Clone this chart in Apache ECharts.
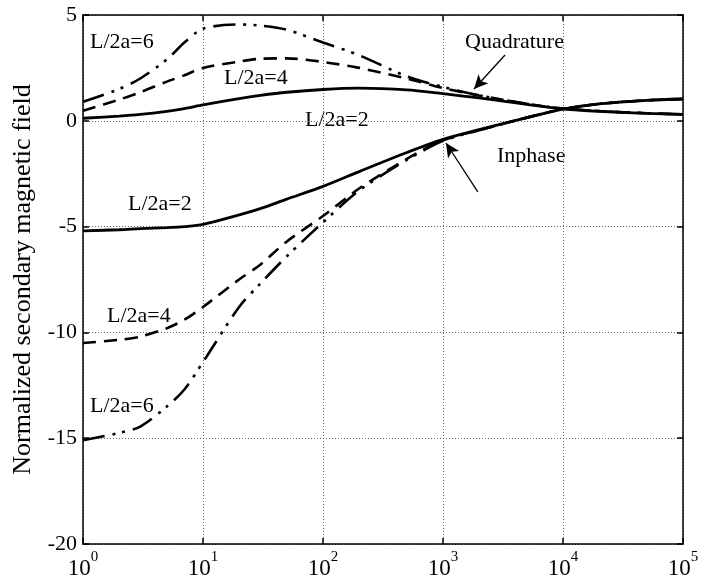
<!DOCTYPE html>
<html lang="en">
<head>
    <meta charset="UTF-8">
    <title>Normalized secondary magnetic field</title>
    <script src="https://cdn.jsdelivr.net/npm/echarts@6/dist/echarts.min.js"></script>
</head>
<body style="margin:0">
    <div id="main" style="width: 703px;height:582px;"></div>
</body>
<script>
    // 横轴取样点（对数刻度）
    var xs = [1, 2, 3, 5, 7, 10, 20, 30, 50, 100, 200, 500, 1000, 2000, 5000, 1e4, 2e4, 5e4, 1e5];

    // Quadrature
    var quad2 = [0.12, 0.22, 0.3, 0.45, 0.58, 0.75, 1.05, 1.2, 1.35, 1.48, 1.54, 1.46, 1.28, 1.08, 0.78, 0.57, 0.45, 0.35, 0.3];
    var quad4 = [0.48, 1.0, 1.35, 1.85, 2.15, 2.5, 2.8, 2.93, 2.95, 2.78, 2.5, 2.0, 1.55, 1.2, 0.8, 0.58, 0.46, 0.36, 0.3];
    var quad6 = [0.9, 1.5, 2.0, 2.9, 3.7, 4.35, 4.55, 4.5, 4.3, 3.7, 3.1, 2.1, 1.6, 1.2, 0.8, 0.58, 0.46, 0.36, 0.3];

    // Inphase
    var inph2 = [-5.2, -5.15, -5.1, -5.05, -5.0, -4.9, -4.45, -4.15, -3.7, -3.1, -2.4, -1.5, -0.88, -0.42, 0.15, 0.55, 0.8, 0.97, 1.03];
    var inph4 = [-10.5, -10.35, -10.2, -9.8, -9.4, -8.8, -7.5, -6.8, -5.7, -4.5, -3.2, -1.8, -0.92, -0.44, 0.15, 0.55, 0.8, 0.97, 1.03];
    var inph6 = [-15.1, -14.75, -14.45, -13.5, -12.7, -11.4, -8.8, -7.7, -6.4, -4.8, -3.3, -1.85, -0.95, -0.45, 0.15, 0.55, 0.8, 0.97, 1.03];

    var yTicks = [-20, -15, -10, -5, 0, 5];

    var font = "'Liberation Serif', 'Times New Roman', serif";

    function pairs(vals) {
        return xs.map(function (x, i) { return [x, vals[i]]; });
    }

    function line(name, vals, dash, width) {
        return {
            name: name,
            type: 'line',
            smooth: 0.3,
            symbol: 'none',
            data: pairs(vals),
            lineStyle: { color: '#000', width: width, type: dash },
            z: 3
        };
    }

    var dashed = [13, 8];
    var dashDot = [22, 8, 3, 7, 3, 8];

    var series = [
        line('quad2', quad2, 'solid', 2.8),
        line('quad4', quad4, dashed, 2.6),
        line('quad6', quad6, dashDot, 2.6),
        line('inph2', inph2, 'solid', 2.8),
        line('inph4', inph4, dashed, 2.6),
        line('inph6', inph6, dashDot, 2.6)
    ];

    // 箭头
    series[0].markLine = {
        silent: true,
        symbol: ['none', 'arrow'],
        symbolSize: [10, 14],
        label: { show: false },
        lineStyle: { color: '#000', width: 1.3, type: 'solid' },
        data: [
            [{ coord: [3289, 3.11] }, { coord: [1812, 1.5] }],
            [{ coord: [1950, -3.36] }, { coord: [1059, -1.05] }]
        ]
    };

    var gridDash = { show: true, lineStyle: { color: '#666', width: 1, type: [1, 2] } };
    var axisBlack = { show: true, onZero: false, lineStyle: { color: '#000', width: 1.5 } };
    var tickIn = { show: true, inside: true, length: 6, lineStyle: { color: '#000', width: 1.5 } };

    var myChart = echarts.init(document.getElementById('main'));

    var option = {
        animation: false,
        backgroundColor: '#fff',
        grid: { left: 83, right: 20, top: 15, bottom: 38 },
        xAxis: [{
            type: 'log',
            logBase: 10,
            min: 1,
            max: 1e5,
            axisLine: axisBlack,
            axisTick: tickIn,
            minorTick: { show: false },
            splitLine: gridDash,
            axisLabel: {
                margin: 6,
                formatter: function (v) {
                    var e = Math.round(Math.log10(v));
                    return '{b|10}{s|' + e + '}';
                },
                rich: {
                    b: { fontFamily: font, fontSize: 23, color: '#000', verticalAlign: 'bottom', lineHeight: 30 },
                    s: { fontFamily: font, fontSize: 15, color: '#000', verticalAlign: 'top', lineHeight: 30 }
                }
            }
        }, {
            type: 'log',
            logBase: 10,
            min: 1,
            max: 1e5,
            position: 'top',
            axisLine: axisBlack,
            axisTick: tickIn,
            axisLabel: { show: false },
            splitLine: { show: false }
        }],
        yAxis: [{
            type: 'value',
            min: yTicks[0],
            max: yTicks[yTicks.length - 1],
            interval: 5,
            name: 'Normalized secondary magnetic field',
            nameLocation: 'middle',
            nameGap: 47,
            nameTextStyle: { fontFamily: font, fontSize: 26, color: '#000' },
            axisLine: axisBlack,
            axisTick: tickIn,
            splitLine: gridDash,
            axisLabel: { fontFamily: font, fontSize: 22, color: '#000', margin: 6 }
        }, {
            type: 'value',
            min: yTicks[0],
            max: yTicks[yTicks.length - 1],
            interval: 5,
            position: 'right',
            axisLine: axisBlack,
            axisTick: tickIn,
            axisLabel: { show: false },
            splitLine: { show: false }
        }],
        graphic: [
            { type: 'text', left: 90, top: 31, style: { text: 'L/2a=6', font: '22px ' + font, fill: '#000' } },
            { type: 'text', left: 224, top: 67, style: { text: 'L/2a=4', font: '22px ' + font, fill: '#000' } },
            { type: 'text', left: 305, top: 109, style: { text: 'L/2a=2', font: '22px ' + font, fill: '#000' } },
            { type: 'text', left: 465, top: 31, style: { text: 'Quadrature', font: '22px ' + font, fill: '#000' } },
            { type: 'text', left: 497, top: 145, style: { text: 'Inphase', font: '22px ' + font, fill: '#000' } },
            { type: 'text', left: 128, top: 193, style: { text: 'L/2a=2', font: '22px ' + font, fill: '#000' } },
            { type: 'text', left: 107, top: 305, style: { text: 'L/2a=4', font: '22px ' + font, fill: '#000' } },
            { type: 'text', left: 90, top: 395, style: { text: 'L/2a=6', font: '22px ' + font, fill: '#000' } }
        ],
        series: series
    };

    myChart.setOption(option);
</script>
</html>
